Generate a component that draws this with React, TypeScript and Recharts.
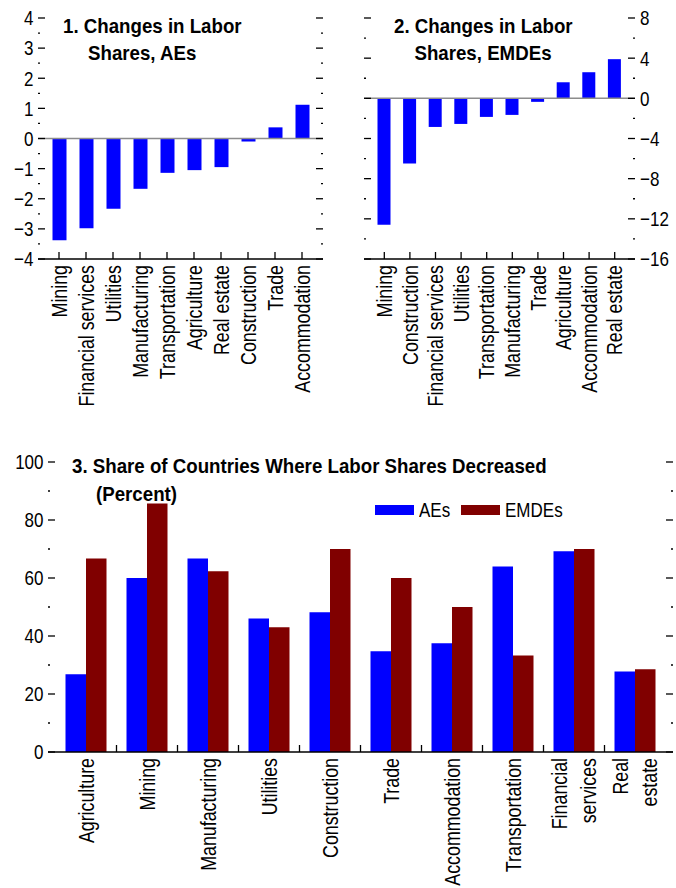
import { Bar, BarChart, Legend, ReferenceLine, XAxis, YAxis } from "recharts";

// Arial-metric font squeezed horizontally to stand in for a narrow face
const FONT = "'Liberation Sans', Arial, sans-serif";
const NARROW = 0.81;
const BOLD_NARROW = 0.89;
const BLUE = "#0000ff";
const MAROON = "#800000";

// 1. Changes in labor shares, AEs
const aeSectors = ["Mining", "Financial services", "Utilities", "Manufacturing", "Transportation", "Agriculture", "Real estate", "Construction", "Trade", "Accommodation"];
const aeChange = [-3.38, -2.98, -2.33, -1.67, -1.14, -1.05, -0.95, -0.1, 0.37, 1.12];
const aeTicks = [-4, -3.5, -3, -2.5, -2, -1.5, -1, -0.5, 0, 0.5, 1, 1.5, 2, 2.5, 3, 3.5, 4];

// 2. Changes in labor shares, EMDEs
const emdeSectors = ["Mining", "Construction", "Financial services", "Utilities", "Transportation", "Manufacturing", "Trade", "Agriculture", "Accommodation", "Real estate"];
const emdeChange = [-12.6, -6.5, -2.85, -2.55, -1.85, -1.65, -0.35, 1.6, 2.6, 3.9];
const emdeTicks = [-16, -14, -12, -10, -8, -6, -4, -2, 0, 2, 4, 6, 8];

// 3. Share of countries where labor shares decreased
const shareSectors = ["Agriculture", "Mining", "Manufacturing", "Utilities", "Construction", "Trade", "Accommodation", "Transportation", "Financial\nservices", "Real\nestate"];
const shareAEs = [26.8, 60, 66.7, 46, 48.2, 34.7, 37.5, 64, 69.2, 27.8];
const shareEMDEs = [66.7, 85.7, 62.3, 43, 70, 60, 50, 33.3, 70, 28.5];
const shareTicks = [0, 10, 20, 30, 40, 50, 60, 70, 80, 90, 100];

const aeData = aeSectors.map((name, i) => ({ name, v: aeChange[i] }));
const emdeData = emdeSectors.map((name, i) => ({ name, v: emdeChange[i] }));
const shareData = shareSectors.map((name, i) => ({ name, ae: shareAEs[i], emde: shareEMDEs[i] }));

const fmt = (v: number) => (v < 0 ? `\u2212${-v}` : `${v}`);

// y ticks on both edges of the plot, pointing inward; short ones for minor steps
const yTick = (step: number, plotW: number, labelSide: "left" | "right") => (p: any) => {
    const v = p.payload.value;
    const major = Math.abs(v / step - Math.round(v / step)) < 1e-6;
    const len = major ? 7 : 2;
    const xl = p.x;
    const xr = p.x + plotW;
    const tx = labelSide === "left" ? xl - 4.5 : xr + 5;
    return (
        <g>
            <line x1={xl} x2={xl + len} y1={p.y} y2={p.y} stroke="#000" strokeWidth={1.3} />
            <line x1={xr - len} x2={xr} y1={p.y} y2={p.y} stroke="#000" strokeWidth={1.3} />
            {major && (
                <text
                    x={0}
                    y={0}
                    dy="0.35em"
                    transform={`translate(${tx} ${p.y}) scale(${NARROW} 1)`}
                    textAnchor={labelSide === "left" ? "end" : "start"}
                    fontSize={21}
                    fontFamily={FONT}
                    fill="#000"
                >
                    {fmt(v)}
                </text>
            )}
        </g>
    );
};

// x ticks: upward marks, vertical labels; optional marks between groups
const xTick = (band: number | null) => (p: any) => {
    const { x, y, payload, index } = p;
    const lines = String(payload.value).split("\n");
    const tx = band == null ? x : x - band / 2;
    const ly = y + 6;
    return (
        <g>
            {(band == null || index > 0) && <line x1={tx} x2={tx} y1={y} y2={y - 7} stroke="#000" strokeWidth={1.3} />}
            {lines.map((s, i) => {
                const lx = x + (i - (lines.length - 1) / 2) * 29;
                return (
                    <text
                        key={i}
                        x={0}
                        y={0}
                        dy="0.35em"
                        textAnchor="end"
                        transform={`translate(${lx} ${ly}) rotate(-90) scale(${NARROW} 1)`}
                        fontSize={22}
                        fontFamily={FONT}
                        fill="#000"
                    >
                        {s}
                    </text>
                );
            })}
        </g>
    );
};

const renderLegend = (props: any) => (
    <div style={{ display: "flex", alignItems: "center", fontFamily: FONT, fontSize: 21, lineHeight: "24px", color: "#000" }}>
        {(props.payload ?? []).map((e: any) => (
            <div key={e.value} style={{ display: "flex", alignItems: "center", width: 86 }}>
                <span style={{ display: "inline-block", width: 39, height: 10, background: e.color, marginRight: 5, flex: "none" }} />
                <span style={{ display: "inline-block", transform: `scaleX(${NARROW})`, transformOrigin: "left center", whiteSpace: "nowrap" }}>{e.value}</span>
            </div>
        ))}
    </div>
);

const titleStyle = {
    position: "absolute" as const,
    fontFamily: FONT,
    fontWeight: 700,
    fontSize: 21,
    lineHeight: "25px",
    color: "#000",
    whiteSpace: "nowrap" as const,
    transform: `scaleX(${BOLD_NARROW})`,
    transformOrigin: "left center",
};

const axisLine = { stroke: "#000", strokeWidth: 1.5 };

const P1_W = 340 - 38 - 17;
const P2_W = 336 - 24 - 41;
const P3_W = 676 - 48 - 3;

const App = () => {
    return (
        <div style={{ position: "absolute", left: 0, top: 0, width: 676, height: 888, background: "#fff", overflow: "hidden" }}>
            <div style={{ position: "absolute", left: 0, top: 0 }}>
                <BarChart width={340} height={440} data={aeData} margin={{ top: 18, right: 17, bottom: 0, left: 0 }}>
                    <XAxis
                        dataKey="name"
                        height={181}
                        interval={0}
                        padding={{ left: 7.5, right: 7.5 }}
                        axisLine={axisLine}
                        tickLine={false}
                        tickSize={0}
                        tickMargin={0}
                        tick={xTick(null)}
                    />
                    <YAxis width={38} domain={[-4, 4]} ticks={aeTicks} interval={0} axisLine={false} tickLine={false} tickSize={0} tickMargin={0} tick={yTick(1, P1_W, "left")} />
                    <ReferenceLine y={0} stroke="#8c8c8c" strokeWidth={1.5} />
                    <Bar dataKey="v" fill={BLUE} barSize={14} isAnimationActive={false} />
                </BarChart>
            </div>

            <div style={{ position: "absolute", left: 340, top: 0 }}>
                <BarChart width={336} height={440} data={emdeData} margin={{ top: 18, right: 41, bottom: 0, left: 0 }}>
                    <XAxis
                        dataKey="name"
                        height={181}
                        interval={0}
                        padding={{ left: 7.5, right: 7.5 }}
                        axisLine={axisLine}
                        tickLine={false}
                        tickSize={0}
                        tickMargin={0}
                        tick={xTick(null)}
                    />
                    <YAxis width={24} domain={[-16, 8]} ticks={emdeTicks} interval={0} axisLine={false} tickLine={false} tickSize={0} tickMargin={0} tick={yTick(4, P2_W, "right")} />
                    <ReferenceLine y={0} stroke="#8c8c8c" strokeWidth={1.5} />
                    <Bar dataKey="v" fill={BLUE} barSize={13} isAnimationActive={false} />
                </BarChart>
            </div>

            <div style={{ position: "absolute", left: 0, top: 440 }}>
                <BarChart width={676} height={448} data={shareData} margin={{ top: 22, right: 3, bottom: 0, left: 0 }} barGap={0}>
                    <XAxis
                        dataKey="name"
                        height={136}
                        interval={0}
                        padding={{ left: 7.5, right: 7.5 }}
                        axisLine={axisLine}
                        tickLine={false}
                        tickSize={0}
                        tickMargin={0}
                        tick={xTick((P3_W - 15) / shareSectors.length)}
                    />
                    <YAxis width={48} domain={[0, 100]} ticks={shareTicks} interval={0} axisLine={false} tickLine={false} tickSize={0} tickMargin={0} tick={yTick(20, P3_W, "left")} />
                    <Legend
                        layout="horizontal"
                        verticalAlign="middle"
                        align="center"
                        content={renderLegend}
                        wrapperStyle={{ position: "absolute", left: 375, top: 58, width: "auto" }}
                    />
                    <Bar dataKey="ae" name="AEs" fill={BLUE} barSize={20.5} isAnimationActive={false} />
                    <Bar dataKey="emde" name="EMDEs" fill={MAROON} barSize={20.5} isAnimationActive={false} />
                </BarChart>
            </div>

            <div style={{ ...titleStyle, left: 63, top: 13 }}>1. Changes in Labor</div>
            <div style={{ ...titleStyle, left: 88, top: 40 }}>Shares, AEs</div>
            <div style={{ ...titleStyle, left: 383, top: 13, width: 200, textAlign: "center", transformOrigin: "center center" }}>2. Changes in Labor</div>
            <div style={{ ...titleStyle, left: 383, top: 40, width: 200, textAlign: "center", transformOrigin: "center center" }}>Shares, EMDEs</div>
            <div style={{ ...titleStyle, left: 72, top: 453 }}>3. Share of Countries Where Labor Shares Decreased</div>
            <div style={{ ...titleStyle, left: 96, top: 481 }}>(Percent)</div>
        </div>
    );
};

export default App;
